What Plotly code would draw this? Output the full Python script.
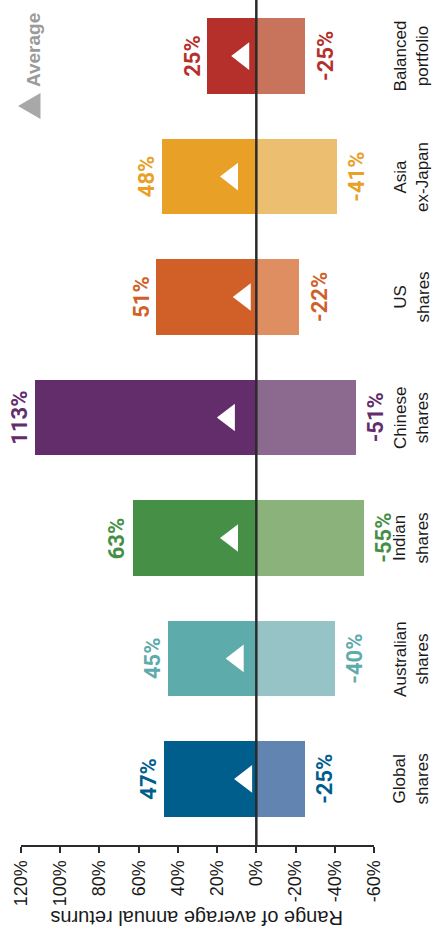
import plotly.graph_objects as go

# ---- data (bottom to top in the picture) ----
categories = ["Global shares", "Australian shares", "Indian shares", "Chinese shares",
              "US shares", "Asia ex-Japan", "Balanced portfolio"]
category_labels = ["Global<br>shares", "Australian<br>shares", "Indian<br>shares",
                   "Chinese<br>shares", "US<br>shares", "Asia<br>ex-Japan",
                   "Balanced<br>portfolio"]
max_returns = [47, 45, 63, 113, 51, 48, 25]
min_returns = [-25, -40, -55, -51, -22, -41, -25]
avg_returns = [5.2, 9.5, 12.4, 14.0, 5.9, 12.4, 6.7]
tick_values = [120, 100, 80, 60, 40, 20, 0, -20, -40, -60]
tick_labels = ["120%", "100%", "80%", "60%", "40%", "20%", "0%", "-20%", "-40%", "-60%"]

dark_colors = ["#005e8c", "#5eabab", "#468f46", "#632d6b", "#d06028", "#e8a026", "#b5302a"]
light_colors = ["#6185b0", "#96c3c6", "#8ab27a", "#8c6a8f", "#de8e60", "#ecbe70", "#c8735c"]

NUM_FONT = "Roboto, DejaVu Sans Condensed, sans-serif"
TICK_FONT = "Liberation Sans, Arial, sans-serif"
LBL_FONT = "Liberation Sans, Arial, sans-serif"

fig = go.Figure()

fig.add_trace(go.Bar(
    y=categories, x=max_returns, orientation="h",
    marker=dict(color=dark_colors, line=dict(width=0)),
    width=0.63, name="Highest", showlegend=False, hoverinfo="x+y"))
fig.add_trace(go.Bar(
    y=categories, x=min_returns, orientation="h",
    marker=dict(color=light_colors, line=dict(width=0)),
    width=0.63, name="Lowest", showlegend=False, hoverinfo="x+y"))
fig.add_trace(go.Scatter(
    y=categories, x=avg_returns, mode="markers",
    marker=dict(symbol="triangle-left", size=24, color="white", line=dict(width=0)),
    name="Average", showlegend=False))

annotations = []
for cat, lab, hi, lo, col in zip(categories, category_labels, max_returns, min_returns, dark_colors):
    annotations.append(dict(
        x=hi, y=cat, xref="x", yref="y", text=f"{hi}%", showarrow=False,
        textangle=-90, xanchor="right", yanchor="middle", xshift=-1,
        font=dict(family=NUM_FONT, size=22, color=col, weight="bold")))
    annotations.append(dict(
        x=lo, y=cat, xref="x", yref="y", text=f"{lo}%", showarrow=False,
        textangle=-90, xanchor="left", yanchor="middle", xshift=5,
        font=dict(family=NUM_FONT, size=22, color=col, weight="bold")))
    annotations.append(dict(
        x=1.106, y=cat, xref="paper", yref="y", text=lab, showarrow=False,
        textangle=-90, xanchor="center", yanchor="middle",
        font=dict(family=LBL_FONT, size=17, color="#1a1a1a")))

# axis title (upside down, as in the rotated original)
annotations.append(dict(
    x=0.497, y=-0.0864, xref="paper", yref="paper", text="Range of average annual returns",
    showarrow=False, textangle=180, xanchor="center", yanchor="middle",
    font=dict(family=LBL_FONT, size=20, color="#1a1a1a")))
# legend text
annotations.append(dict(
    x=0.034, y=0.9408, xref="paper", yref="paper", text="Average",
    showarrow=False, textangle=-90, xanchor="center", yanchor="middle",
    font=dict(family=LBL_FONT, size=19, color="#9a9a9a", weight="bold")))

shapes = [
    # zero line drawn over the bars
    dict(type="line", xref="x", yref="paper", x0=0, x1=0, y0=0, y1=1,
         line=dict(color="#2b2b2b", width=2.5), layer="above"),
    # legend key triangle
    dict(type="path", xref="paper", yref="paper", xsizemode="pixel", ysizemode="pixel",
         xanchor=0.034, yanchor=0.8746,
         path="M -15 0 L 7.5 13 L 7.5 -13 Z",
         fillcolor="#a8a8a8", line=dict(width=0)),
]

fig.update_layout(
    width=437, height=942,
    margin=dict(l=21, r=63, t=0, b=97, autoexpand=False),
    paper_bgcolor="white", plot_bgcolor="white",
    barmode="overlay", bargap=0,
    annotations=annotations, shapes=shapes,
    showlegend=False,
    xaxis=dict(
        range=[120, -60], tickvals=tick_values, ticktext=tick_labels,
        tickangle=-90, ticks="outside", ticklen=6, tickwidth=2, tickcolor="#2b2b2b",
        showline=True, linecolor="#2b2b2b", linewidth=2,
        showgrid=False, zeroline=False, automargin=False,
        tickfont=dict(family=TICK_FONT, size=18, color="#1a1a1a"),
        fixedrange=True),
    yaxis=dict(
        categoryorder="array", categoryarray=categories,
        range=[-0.548, 6.465], showticklabels=False, showgrid=False,
        zeroline=False, showline=False, ticks="", automargin=False, fixedrange=True),
)

fig.write_html(
    "out.html",
    config={"displayModeBar": False},
    post_script="document.body.style.margin='0';document.body.style.overflow='hidden';",
)
